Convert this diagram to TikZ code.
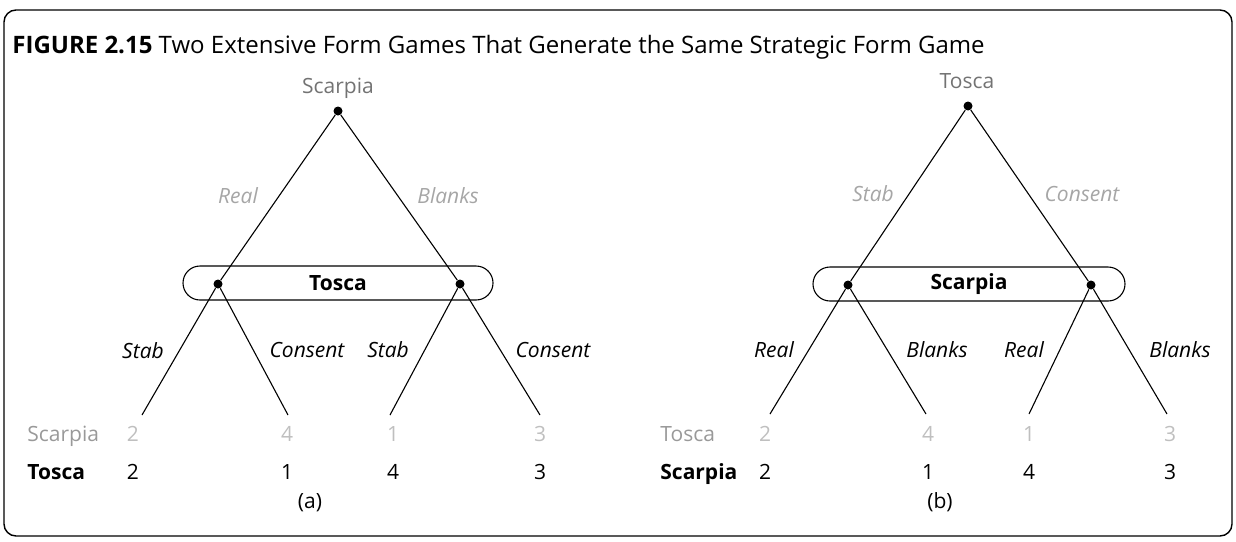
\documentclass[tikz,border=0pt]{standalone}
\usepackage{fontspec}
\setmainfont{Open Sans}
\begin{document}
\begin{tikzpicture}[x=0.5pt,y=-0.5pt,
  every node/.style={inner sep=0pt, font=\fontsize{10.5}{12}\selectfont},
  dot/.style={circle, fill=black, minimum size=4.5pt},
  edge/.style={line width=0.55pt},
  infoset/.style={draw, line width=0.55pt, rounded corners=8.5pt,
    minimum height=17pt, font=\fontsize{10.5}{12}\selectfont\bfseries},
  move/.style={font=\fontsize{10.5}{12}\selectfont\itshape},
  topmove/.style={move, text=black!35},
  player/.style={text=black!55, anchor=base},
  rowname/.style={anchor=base west},
  fadedname/.style={rowname, text=black!40},
  boldname/.style={rowname, font=\fontsize{10.5}{12}\selectfont\bfseries},
  payoff/.style={anchor=base},
  fadedpayoff/.style={payoff, text=black!25},
  caption/.style={anchor=base}
]
\useasboundingbox (0,0) rectangle (1236,541);

% outer frame and title
\draw[line width=0.7pt, rounded corners=6pt] (4,10) rectangle (1232,536);
\node[anchor=base west, font=\fontsize{12}{14}\selectfont] (title) at (12,53)
  {\textbf{FIGURE 2.15} Two Extensive Form Games That Generate the Same Strategic Form Game};

% ---------------- game (a) ----------------
\node[infoset, minimum width=155pt] (ia) at (338,283) {Tosca};
\node[player] (ra-lab) at (338,93) {Scarpia};
\node[dot] (ra) at (338,111) {};
\node[dot] (a1) at (218,284) {};
\node[dot] (a2) at (460,284) {};
\coordinate (la1) at (142,415);
\coordinate (la2) at (288,415);
\coordinate (la3) at (390,415);
\coordinate (la4) at (540,415);
\draw[edge] (ra) -- (a1);
\draw[edge] (ra) -- (a2);
\draw[edge] (a1) -- (la1);
\draw[edge] (a1) -- (la2);
\draw[edge] (a2) -- (la3);
\draw[edge] (a2) -- (la4);
\node[topmove] (ma1) at (238,196) {Real};
\node[topmove] (ma2) at (448,196) {Blanks};
\node[move] (ma3) at (143,351) {Stab};
\node[move] (ma4) at (307,350) {Consent};
\node[move] (ma5) at (388,350) {Stab};
\node[move] (ma6) at (553,350) {Consent};
\node[fadedname] (na1) at (27,441) {Scarpia};
\node[boldname] (na2) at (27,479) {Tosca};
\node[fadedpayoff] (pa11) at (133,441) {2};
\node[fadedpayoff] (pa12) at (287,441) {4};
\node[fadedpayoff] (pa13) at (393,441) {1};
\node[fadedpayoff] (pa14) at (540,441) {3};
\node[payoff] (pa21) at (133,479) {2};
\node[payoff] (pa22) at (287,479) {1};
\node[payoff] (pa23) at (393,479) {4};
\node[payoff] (pa24) at (540,479) {3};
\node[caption] (capa) at (310,508) {(a)};

% ---------------- game (b) ----------------
\node[infoset, minimum width=156pt] (ib) at (969,284) {Scarpia};
\node[player] (rb-lab) at (967,88) {Tosca};
\node[dot] (rb) at (968,106) {};
\node[dot] (b1) at (848,285) {};
\node[dot] (b2) at (1091,285) {};
\coordinate (lb1) at (770,414);
\coordinate (lb2) at (926,414);
\coordinate (lb3) at (1029,414);
\coordinate (lb4) at (1167,414);
\draw[edge] (rb) -- (b1);
\draw[edge] (rb) -- (b2);
\draw[edge] (b1) -- (lb1);
\draw[edge] (b1) -- (lb2);
\draw[edge] (b2) -- (lb3);
\draw[edge] (b2) -- (lb4);
\node[topmove] (mb1) at (873,194) {Stab};
\node[topmove] (mb2) at (1082,194) {Consent};
\node[move] (mb3) at (774,350) {Real};
\node[move] (mb4) at (937,350) {Blanks};
\node[move] (mb5) at (1024,350) {Real};
\node[move] (mb6) at (1180,350) {Blanks};
\node[fadedname] (nb1) at (660,441) {Tosca};
\node[boldname] (nb2) at (660,479) {Scarpia};
\node[fadedpayoff] (pb11) at (765,441) {2};
\node[fadedpayoff] (pb12) at (928,441) {4};
\node[fadedpayoff] (pb13) at (1029,441) {1};
\node[fadedpayoff] (pb14) at (1170,441) {3};
\node[payoff] (pb21) at (765,479) {2};
\node[payoff] (pb22) at (928,479) {1};
\node[payoff] (pb23) at (1029,479) {4};
\node[payoff] (pb24) at (1170,479) {3};
\node[caption] (capb) at (940,508) {(b)};
\end{tikzpicture}
\end{document}
